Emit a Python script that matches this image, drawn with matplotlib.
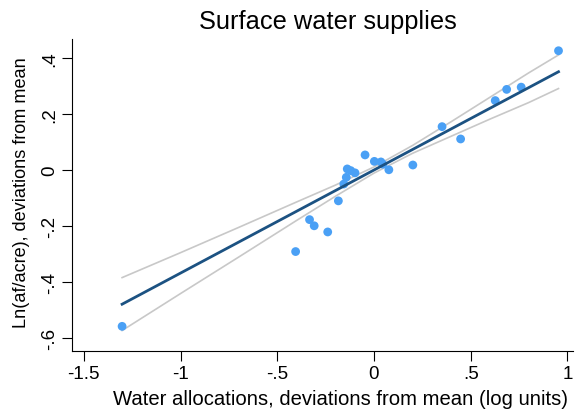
import numpy as np
import matplotlib
matplotlib.use("Agg")
import matplotlib.pyplot as plt
from matplotlib.ticker import FixedLocator, FixedFormatter

plt.rcParams['font.family'] = ['Liberation Sans', 'DejaVu Sans']

# Scatter data: deviations from mean
x_alloc = [-1.302, -0.405, -0.333, -0.309, -0.239, -0.184, -0.156, -0.143,
           -0.138, -0.120, -0.098, -0.046, 0.002, 0.036, 0.046, 0.077,
           0.201, 0.352, 0.448, 0.627, 0.686, 0.761, 0.954]
y_lnaf = [-0.558, -0.291, -0.177, -0.199, -0.221, -0.110, -0.050, -0.026,
          0.004, -0.002, -0.010, 0.054, 0.031, 0.029, 0.021, 0.001,
          0.018, 0.155, 0.111, 0.248, 0.288, 0.296, 0.426]

# Fitted line
fit_x = [-1.302, 0.954]
fit_y = [-0.479, 0.351]

# 95% confidence band
ci_x = [-1.302, -1.0, -0.7, -0.4, -0.2, 0.0, 0.2, 0.4, 0.6, 0.8, 0.954]
ci_upper = [-0.384, -0.295, -0.205, -0.114, -0.054, 0.011, 0.088, 0.173, 0.260, 0.347, 0.411]
ci_lower = [-0.573, -0.441, -0.311, -0.180, -0.094, -0.011, 0.060, 0.121, 0.182, 0.241, 0.291]

xticks = [-1.5, -1, -0.5, 0, 0.5, 1]
xticklabels = ["-1.5", "-1", "-.5", "0", ".5", "1"]
yticks = [-0.6, -0.4, -0.2, 0, 0.2, 0.4]
yticklabels = ["-.6", "-.4", "-.2", "0", ".2", ".4"]

fig = plt.figure(figsize=(5.79, 4.10), dpi=100)
ax = fig.add_axes([0.124, 0.1415, 0.866, 0.761])

ax.plot(ci_x, ci_upper, color="#c8c8c8", lw=1.2, zorder=1)
ax.plot(ci_x, ci_lower, color="#c8c8c8", lw=1.2, zorder=1)
ax.scatter(x_alloc, y_lnaf, s=40, color="#4aa0f5", edgecolors="none", zorder=2)
ax.plot(fit_x, fit_y, color="#1c5282", lw=2.0, zorder=3)

ax.set_xlim(-1.562, 1.03)
ax.set_ylim(-0.646, 0.468)
ax.xaxis.set_major_locator(FixedLocator(xticks))
ax.xaxis.set_major_formatter(FixedFormatter(xticklabels))
ax.yaxis.set_major_locator(FixedLocator(yticks))
ax.yaxis.set_major_formatter(FixedFormatter(yticklabels))
for lab in ax.get_yticklabels():
    lab.set_rotation(90)
    lab.set_va('center')
ax.tick_params(axis='both', direction='out', length=7, width=0.8,
               labelsize=13.5, pad=3)

for sp in ['top', 'right']:
    ax.spines[sp].set_visible(False)
for sp in ['left', 'bottom']:
    ax.spines[sp].set_linewidth(0.8)

ax.set_title("Surface water supplies", fontsize=18.3, pad=8, x=0.51)
ax.set_xlabel("Water allocations, deviations from mean (log units)", fontsize=14.6,
              labelpad=5, x=0.535)
ax.set_ylabel("Ln(af/acre), deviations from mean", fontsize=13.1, labelpad=8, y=0.51)

fig.savefig("out.png", dpi=100)
